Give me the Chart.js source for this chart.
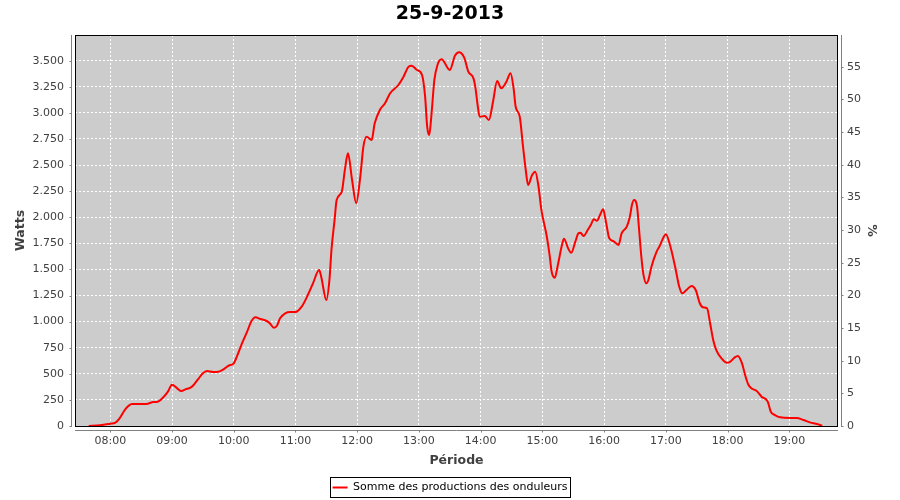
<!DOCTYPE html>
<html lang="fr">
<head>
<meta charset="UTF-8">
<title>25-9-2013</title>
<style>
    body { margin: 0; background: #fff; }
    #chart { display: block; }
</style>
</head>
<body>
<canvas id="chart" width="900" height="500"></canvas>
<script src="https://cdn.jsdelivr.net/npm/chart.js@4.4.0/dist/chart.umd.min.js"></script>
<script>
// values
const times = [
    '07:39', '07:50', '08:00', '08:05', '08:09', '08:14', '08:18', '08:21', '08:35', '08:42',
    '08:45', '08:52', '08:56', '09:00', '09:05', '09:09', '09:13', '09:18', '09:21', '09:26',
    '09:30', '09:34', '09:40', '09:45', '09:50', '09:55', '10:00', '10:03', '10:08', '10:13',
    '10:17', '10:21', '10:26', '10:32', '10:35', '10:39', '10:42', '10:45', '10:50', '10:55',
    '11:00', '11:06', '11:12', '11:17', '11:23', '11:25', '11:30', '11:33', '11:35', '11:38',
    '11:40', '11:45', '11:48', '11:51', '11:55', '11:59', '12:03', '12:06', '12:09', '12:14',
    '12:17', '12:22', '12:27', '12:32', '12:40', '12:45', '12:50', '12:53', '12:58', '13:03',
    '13:06', '13:08', '13:10', '13:12', '13:15', '13:18', '13:22', '13:30', '13:35', '13:39',
    '13:44', '13:48', '13:53', '13:55', '13:57', '13:59', '14:04', '14:08', '14:12', '14:16',
    '14:20', '14:25', '14:29', '14:32', '14:34', '14:38', '14:41', '14:44', '14:46', '14:50',
    '14:53', '14:56', '14:59', '15:04', '15:07', '15:09', '15:12', '15:15', '15:19', '15:21',
    '15:25', '15:28', '15:32', '15:35', '15:37', '15:40', '15:44', '15:47', '15:50', '15:53',
    '15:56', '15:59', '16:02', '16:05', '16:09', '16:14', '16:17', '16:22', '16:25', '16:27',
    '16:29', '16:32', '16:34', '16:36', '16:38', '16:41', '16:43', '16:46', '16:51', '16:54',
    '16:58', '17:00', '17:04', '17:09', '17:13', '17:16', '17:20', '17:25', '17:29', '17:33',
    '17:36', '17:40', '17:43', '17:46', '17:49', '17:54', '17:59', '18:02', '18:07', '18:10',
    '18:14', '18:17', '18:20', '18:23', '18:28', '18:33', '18:39', '18:42', '18:46', '18:51',
    '19:01', '19:07', '19:14', '19:20', '19:27', '19:32'
];
const watts = [
    0, 7, 22, 32, 74, 153, 195, 210, 210, 230,
    230, 281, 329, 395, 361, 335, 351, 367, 393, 457,
    505, 527, 517, 520, 543, 578, 601, 664, 792, 904,
    1000, 1041, 1025, 1006, 984, 942, 961, 1032, 1080, 1092,
    1092, 1143, 1255, 1367, 1495, 1431, 1207, 1400, 1690, 1974,
    2165, 2245, 2453, 2613, 2357, 2134, 2389, 2676, 2772, 2740,
    2900, 3028, 3092, 3188, 3267, 3347, 3443, 3452, 3411, 3363,
    3155, 2868, 2788, 2964, 3315, 3459, 3513, 3411, 3548, 3580,
    3529, 3395, 3331, 3235, 3076, 2963, 2970, 2932, 3107, 3306,
    3235, 3299, 3379, 3235, 3059, 2963, 2692, 2437, 2309, 2405,
    2437, 2309, 2070, 1830, 1638, 1478, 1421, 1543, 1734, 1795,
    1702, 1660, 1766, 1846, 1852, 1820, 1878, 1926, 1980, 1967,
    2022, 2076, 1942, 1798, 1772, 1734, 1846, 1910, 2005, 2117,
    2165, 2101, 1878, 1638, 1463, 1367, 1399, 1526, 1670, 1725,
    1814, 1837, 1734, 1526, 1335, 1271, 1303, 1341, 1303, 1176,
    1137, 1128, 984, 824, 728, 649, 607, 613, 658, 671,
    600, 489, 400, 361, 338, 281, 233, 137, 105, 83,
    77, 77, 57, 35, 19, 3
];
const hourTicks = ['08:00', '09:00', '10:00', '11:00', '12:00', '13:00',
                   '14:00', '15:00', '16:00', '17:00', '18:00', '19:00'];
const wattTicks = [0, 250, 500, 750, 1000, 1250, 1500, 1750, 2000, 2250,
                   2500, 2750, 3000, 3250, 3500];
const pctTicks = [0, 5, 10, 15, 20, 25, 30, 35, 40, 45, 50, 55];

function toMin(s) {
    const p = s.split(':');
    return parseInt(p[0], 10) * 60 + parseInt(p[1], 10);
}
function fmtTime(v) {
    const h = Math.floor(v / 60), m = Math.round(v % 60);
    return String(h).padStart(2, '0') + ':' + String(m).padStart(2, '0');
}
function fmtWatts(v) {
    if (v < 1000) return String(v);
    return Math.floor(v / 1000) + '.' + String(v % 1000).padStart(3, '0');
}

const points = times.map((t, i) => ({ x: toMin(t), y: watts[i] }));

const AXIS_GREY = '#808080';
const TEXT_GREY = '#404040';

// plot background, outline, offset axis lines and legend frame
const plotFrame = {
    id: 'plotFrame',
    beforeDraw(chart) {
        const a = chart.chartArea, ctx = chart.ctx;
        ctx.save();
        ctx.fillStyle = '#cccccc';
        ctx.fillRect(a.left, a.top, a.right - a.left, a.bottom - a.top);
        ctx.restore();
    },
    beforeDatasetsDraw(chart) {
        const a = chart.chartArea, ctx = chart.ctx;
        ctx.save();
        ctx.strokeStyle = '#000';
        ctx.lineWidth = 1;
        ctx.strokeRect(a.left + 0.5, a.top + 0.5, a.right - a.left - 1, a.bottom - a.top);
        ctx.restore();
    },
    afterDraw(chart) {
        const a = chart.chartArea, ctx = chart.ctx;
        const sx = chart.scales.x, sy = chart.scales.y, sy1 = chart.scales.y1;
        ctx.save();
        ctx.strokeStyle = AXIS_GREY;
        ctx.lineWidth = 1;
        ctx.beginPath();
        // left axis
        const lx = a.left - 3.5;
        ctx.moveTo(lx, a.top); ctx.lineTo(lx, a.bottom + 1);
        wattTicks.forEach(v => {
            const y = Math.round(sy.getPixelForValue(v)) + 0.5;
            ctx.moveTo(lx - 2, y); ctx.lineTo(lx, y);
        });
        // right axis
        const rx = a.right + 3.5;
        ctx.moveTo(rx, a.top); ctx.lineTo(rx, a.bottom + 1);
        pctTicks.forEach(v => {
            const y = Math.round(sy1.getPixelForValue(v)) + 0.5;
            ctx.moveTo(rx, y); ctx.lineTo(rx + 2, y);
        });
        // bottom axis
        const by = a.bottom + 4.5;
        ctx.moveTo(a.left, by); ctx.lineTo(a.right, by);
        hourTicks.forEach(h => {
            const x = Math.round(sx.getPixelForValue(toMin(h))) + 0.5;
            ctx.moveTo(x, by); ctx.lineTo(x, by + 2);
        });
        ctx.stroke();

        // legend frame
        const hb = chart.legend.legendHitBoxes[0];
        if (hb) {
            const cy = hb.top + 5.5;
            ctx.strokeStyle = '#000';
            ctx.strokeRect(Math.round(hb.left - 3) + 0.5, Math.round(cy - 10.5) + 0.5,
                           Math.round(hb.width + 5), 20);
        }
        ctx.restore();
    }
};

new Chart(document.getElementById('chart'), {
    type: 'line',
    data: {
        datasets: [{
            label: 'Somme des productions des onduleurs',
            data: points,
            borderColor: '#ff0000',
            backgroundColor: '#ff0000',
            borderWidth: 2,
            pointRadius: 0,
            fill: false,
            cubicInterpolationMode: 'monotone',
            yAxisID: 'y'
        }]
    },
    options: {
        responsive: false,
        animation: false,
        events: [],
        layout: { padding: { left: 0, right: 0, top: 0, bottom: -3 } },
        plugins: {
            title: {
                display: true,
                text: '25-9-2013',
                color: '#000',
                font: { family: 'DejaVu Sans', size: 19, weight: 'bold' },
                padding: { top: 2.5, bottom: 9.7 }
            },
            legend: {
                position: 'bottom',
                labels: {
                    color: '#000',
                    font: { family: 'DejaVu Sans', size: 11 },
                    usePointStyle: true,
                    pointStyle: 'line',
                    pointStyleWidth: 15,
                    padding: 9
                }
            },
            tooltip: { enabled: false }
        },
        scales: {
            x: {
                type: 'linear',
                min: 445.7,
                max: 1187.3,
                afterBuildTicks: s => { s.ticks = hourTicks.map(h => ({ value: toMin(h) })); },
                afterFit: s => { s.height = 47; },
                border: { display: false, dash: [2, 2] },
                grid: { color: '#ffffff', lineWidth: 1, drawTicks: false },
                ticks: {
                    autoSkip: false, maxRotation: 0, padding: 9,
                    color: TEXT_GREY,
                    font: { family: 'DejaVu Sans', size: 11 },
                    callback: v => fmtTime(v)
                },
                title: {
                    display: true, text: 'Période', color: TEXT_GREY,
                    font: { family: 'DejaVu Sans', size: 12.5, weight: 'bold' },
                    padding: { top: 0, bottom: 5 }
                }
            },
            y: {
                position: 'left',
                min: 0,
                max: 3746,
                afterBuildTicks: s => { s.ticks = wattTicks.map(v => ({ value: v })); },
                afterFit: s => { s.width = 75; },
                border: { display: false, dash: [2, 2] },
                grid: { color: '#ffffff', lineWidth: 1, drawTicks: false },
                ticks: {
                    padding: 11, color: TEXT_GREY,
                    font: { family: 'DejaVu Sans', size: 11 },
                    callback: v => fmtWatts(v)
                },
                title: {
                    display: true, text: 'Watts', color: TEXT_GREY,
                    font: { family: 'DejaVu Sans', size: 12.5, weight: 'bold' },
                    padding: { top: 13, bottom: 0 }
                }
            },
            y1: {
                position: 'right',
                min: 0,
                max: 59.85,
                afterBuildTicks: s => { s.ticks = pctTicks.map(v => ({ value: v })); },
                afterFit: s => { s.width = 62; },
                border: { display: false },
                grid: { display: false, drawTicks: false },
                ticks: {
                    padding: 9, color: TEXT_GREY,
                    font: { family: 'DejaVu Sans', size: 11 },
                    callback: v => String(v)
                },
                title: {
                    display: true, text: '%', color: TEXT_GREY,
                    font: { family: 'DejaVu Sans', size: 12.5, weight: 'bold' },
                    padding: { top: 21.5, bottom: 0 }
                }
            }
        }
    },
    plugins: [plotFrame]
});
</script>
</body>
</html>
